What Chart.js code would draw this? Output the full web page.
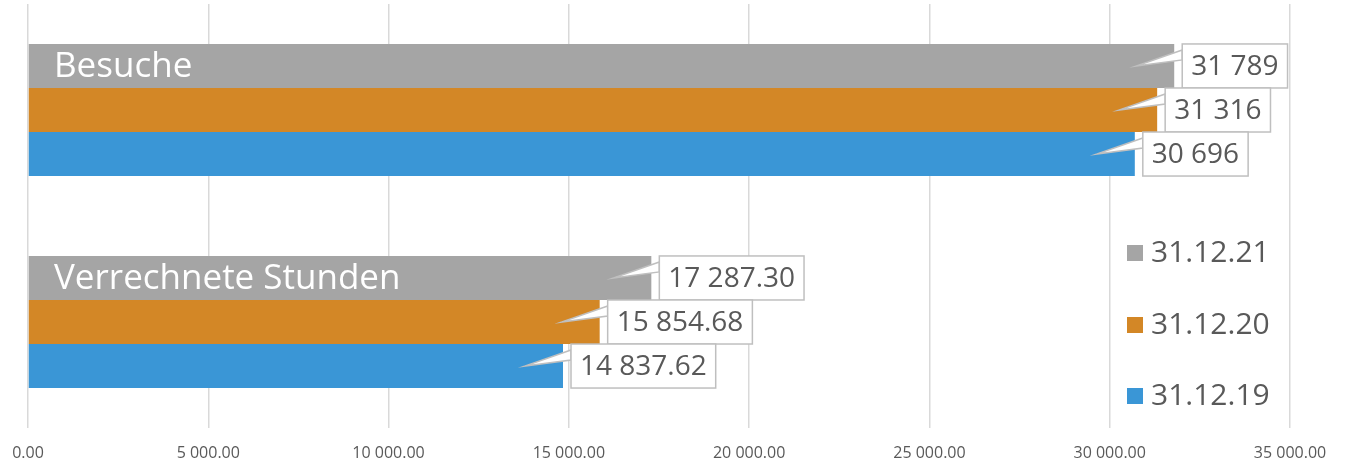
<!DOCTYPE html>
<html lang="de">
<head>
    <meta charset="UTF-8">
    <title>Besuche und verrechnete Stunden</title>
    <script src="https://cdn.jsdelivr.net/npm/chart.js"></script>
    <style>
        body { margin: 0; background: #fff; }
        .wrap { width: 1354px; height: 466px; position: relative; }
    </style>
</head>
<body>
    <div class="wrap"><canvas id="chart"></canvas></div>
    <script>
        // data
        const categories = ['Besuche', 'Verrechnete Stunden'];
        const decimals = [0, 2];
        const seriesNames = ['31.12.21', '31.12.20', '31.12.19'];
        const values2021 = [31789, 17287.30];
        const values2020 = [31316, 15854.68];
        const values2019 = [30696, 14837.62];
        const seriesColors = ['#a5a5a5', '#d38726', '#3a96d6'];
        const xTicksMax = 35000;
        const xTickStep = 5000;

        function fmt(v, d) {
            const parts = v.toFixed(d).split('.');
            parts[0] = parts[0].replace(/\B(?=(\d{3})+(?!\d))/g, ' ');
            return parts.join('.');
        }

        const fontNum = '"Open Sans", "DejaVu Sans", sans-serif';

        // callout labels + category names inside the top bar
        const calloutPlugin = {
            id: 'callouts',
            afterDatasetsDraw(chart) {
                const ctx = chart.ctx;
                ctx.save();
                chart.data.datasets.forEach((ds, i) => {
                    const meta = chart.getDatasetMeta(i);
                    meta.data.forEach((bar, j) => {
                        const txt = fmt(ds.data[j], decimals[j]);
                        const top = bar.y - bar.height / 2;
                        const h = bar.height;
                        ctx.font = '28px ' + fontNum;
                        const w = ctx.measureText(txt).width + 18;
                        const left = bar.x + 8;
                        // pointer
                        ctx.beginPath();
                        ctx.moveTo(left, top + 6);
                        ctx.lineTo(bar.x - 38, bar.y);
                        ctx.lineTo(left, top + 16);
                        ctx.closePath();
                        ctx.fillStyle = '#ffffff';
                        ctx.fill();
                        ctx.strokeStyle = '#bfbfbf';
                        ctx.lineWidth = 1.5;
                        ctx.stroke();
                        // box
                        ctx.fillStyle = '#ffffff';
                        ctx.fillRect(left, top, w, h);
                        ctx.strokeRect(left, top, w, h);
                        ctx.fillStyle = '#595959';
                        ctx.textBaseline = 'middle';
                        ctx.textAlign = 'left';
                        ctx.fillText(txt, left + 9, bar.y + 1);
                    });
                });
                // category names on first dataset bars
                const meta0 = chart.getDatasetMeta(0);
                meta0.data.forEach((bar, j) => {
                    ctx.font = '35px "Open Sans", sans-serif';
                    ctx.fillStyle = '#ffffff';
                    ctx.textBaseline = 'middle';
                    ctx.textAlign = 'left';
                    ctx.fillText(categories[j], chart.chartArea.left + 26, bar.y + 1);
                });
                ctx.restore();
            },
            afterDraw(chart) {
                const ctx = chart.ctx;
                ctx.save();
                const legendY = [253, 325, 396];
                chart.data.datasets.forEach((ds, i) => {
                    ctx.fillStyle = ds.backgroundColor;
                    ctx.fillRect(1127, legendY[i] - 8, 16, 16);
                    ctx.font = '30px ' + fontNum;
                    ctx.fillStyle = '#595959';
                    ctx.textBaseline = 'middle';
                    ctx.textAlign = 'left';
                    ctx.fillText(ds.label, 1151, legendY[i]);
                });
                ctx.restore();
            }
        };

        new Chart(document.getElementById('chart'), {
            type: 'bar',
            data: {
                labels: categories,
                datasets: [
                    { label: seriesNames[0], data: values2021, backgroundColor: seriesColors[0] },
                    { label: seriesNames[1], data: values2020, backgroundColor: seriesColors[1] },
                    { label: seriesNames[2], data: values2019, backgroundColor: seriesColors[2] }
                ]
            },
            options: {
                indexAxis: 'y',
                responsive: true,
                maintainAspectRatio: false,
                animation: false,
                layout: { padding: { left: 28, right: 64, top: 4, bottom: 2 } },
                datasets: { bar: { categoryPercentage: 0.623, barPercentage: 1.0 } },
                plugins: {
                    legend: { display: false },
                    tooltip: { enabled: false }
                },
                scales: {
                    x: {
                        min: 0,
                        max: xTicksMax,
                        border: { display: false },
                        grid: { color: '#d9d9d9', lineWidth: 1.5, drawTicks: false },
                        afterFit: s => { s.height = 36; s.paddingLeft = 0; s.paddingRight = 0; },
                        ticks: {
                            stepSize: xTickStep,
                            padding: 16,
                            maxRotation: 0,
                            color: '#595959',
                            font: { family: fontNum, size: 16 },
                            callback: v => fmt(v, 2)
                        }
                    },
                    y: {
                        border: { display: false },
                        grid: { display: false },
                        afterFit: s => { s.width = 0; },
                        ticks: { display: false }
                    }
                }
            },
            plugins: [calloutPlugin]
        });
    </script>
</body>
</html>
